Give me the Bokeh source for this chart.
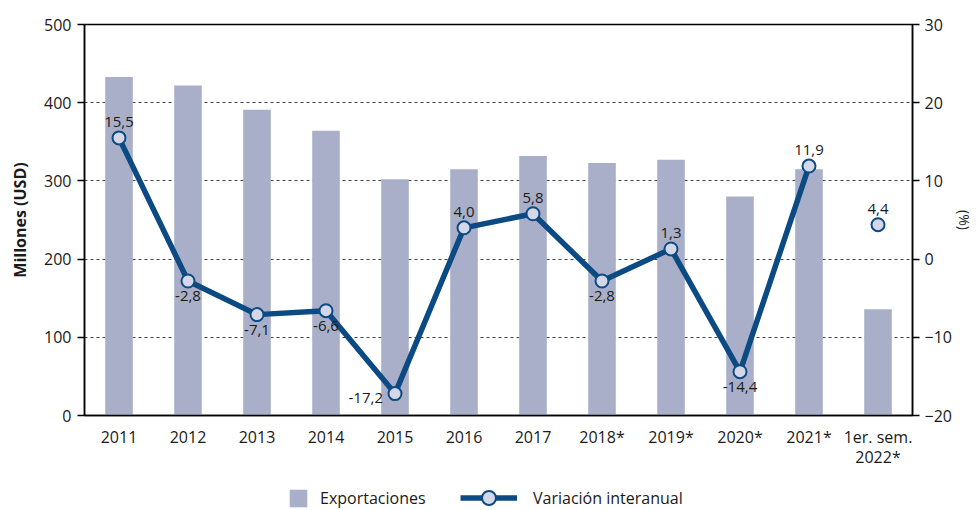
from bokeh.plotting import figure
from bokeh.models import (ColumnDataSource, Range1d, LinearAxis, LabelSet, Legend,
                          LegendItem, FixedTicker, FactorRange)
from bokeh.layouts import column
from bokeh.core.properties import value
from bokeh.embed import file_html
from bokeh.resources import INLINE

# ---- data ----
categories = ["2011", "2012", "2013", "2014", "2015", "2016", "2017",
              "2018*", "2019*", "2020*", "2021*", "1er. sem.\n2022*"]
exportaciones = [433, 422, 391, 364, 302, 315, 332, 323, 327, 280, 315, 136]
variacion = [15.5, -2.8, -7.1, -6.6, -17.2, 4.0, 5.8, -2.8, 1.3, -14.4, 11.9, 4.4]
label_side = ["above", "below", "below", "below", "left", "above", "above",
              "below", "above", "below", "above", "above"]
left_ticks = [0, 100, 200, 300, 400, 500]
right_ticks = [-20, -10, 0, 10, 20, 30]

FONT = "Open Sans"
BAR = "#a9afc8"
LINE = "#0c4a83"
MFILL = "#d3d7e8"
TXT = "#1a1a1a"

src_bar = ColumnDataSource(dict(x=categories, top=exportaciones))
src_line = ColumnDataSource(dict(x=categories[:-1], y=variacion[:-1]))

xo, yo, al, bl = [], [], [], []
for s in label_side:
    if s == "above":
        xo.append(0); yo.append(11); al.append("center"); bl.append("bottom")
    elif s == "below":
        xo.append(0); yo.append(-10); al.append("center"); bl.append("top")
    else:
        xo.append(-12); yo.append(-4); al.append("right"); bl.append("middle")
labels_txt = [f"{v:.1f}".replace(".", ",") for v in variacion]
src_pts = ColumnDataSource(dict(x=categories, y=variacion, t=labels_txt,
                                xo=xo, yo=yo, al=al, bl=bl))


def add_series(fig, visible=True):
    b = fig.vbar(x="x", top="top", width=0.4, source=src_bar, color=BAR,
                 line_color=None, visible=visible)
    l = fig.line(x="x", y="y", source=src_line, y_range_name="pct",
                 line_color=LINE, line_width=5.5, visible=visible)
    s = fig.scatter(x="x", y="y", source=src_pts, y_range_name="pct", size=13,
                    fill_color=MFILL, line_color=LINE, line_width=2, visible=visible)
    return b, l, s


p = figure(x_range=FactorRange(*categories), y_range=Range1d(0, 500),
           width=977, height=476, output_backend="svg", toolbar_location=None,
           min_border_left=84, min_border_right=65, min_border_top=24,
           min_border_bottom=61)
p.extra_y_ranges = {"pct": Range1d(-20, 30)}
add_series(p)

lab = LabelSet(x="x", y="y", text="t", source=src_pts, y_range_name="pct",
               x_offset="xo", y_offset="yo", text_align="al", text_baseline="bl",
               text_font=value(FONT), text_font_size=value("15px"),
               text_color=TXT)
p.add_layout(lab)

# axes
p.yaxis.ticker = FixedTicker(ticks=left_ticks)
p.yaxis.axis_label = "Millones (USD)"
p.yaxis.axis_label_text_font_style = "bold"
p.yaxis.axis_label_text_font_size = "16px"
p.yaxis.axis_label_standoff = 10

ra = LinearAxis(y_range_name="pct", ticker=FixedTicker(ticks=right_ticks),
                axis_label="(%)")
p.add_layout(ra, "right")
ra.axis_label_standoff = 0
ra.axis_label_text_font_size = "14px"
ra.axis_label_text_font_style = "normal"

for ax in [p.yaxis[0], ra]:
    ax.major_tick_out = 7
    ax.major_tick_in = 0
    ax.minor_tick_line_color = None
    ax.major_label_standoff = 6
    ax.major_label_text_font_size = "16px"
ra.major_label_standoff = 5

for ax in [p.yaxis[0], ra, p.xaxis[0]]:
    ax.axis_line_color = "black"
    ax.axis_line_width = 1.5
    ax.major_tick_line_color = "black"
    ax.major_tick_line_width = 1.5
    ax.major_label_text_font = FONT
    ax.major_label_text_color = TXT
    ax.axis_label_text_font = FONT
    ax.axis_label_text_color = TXT

p.xaxis.major_tick_line_color = None
p.xaxis.major_label_standoff = 4
p.xaxis.major_label_text_font_size = "16px"
p.xaxis.major_label_text_line_height = 0.95

p.xgrid.grid_line_color = None
p.ygrid.ticker = FixedTicker(ticks=[100, 200, 300, 400])
p.ygrid.grid_line_color = "#444444"
p.ygrid.grid_line_dash = "3 3"
p.ygrid.grid_line_width = 1

p.outline_line_color = "black"
p.outline_line_width = 1.5
p.background_fill_color = "white"
p.border_fill_color = "white"
p.x_range.range_padding = 0

# ---- legend strip (hidden proxies of the same series) ----
lg = figure(x_range=FactorRange(*categories), y_range=Range1d(0, 500),
            width=977, height=34, output_backend="svg", toolbar_location=None,
            x_axis_type=None, y_axis_type=None, min_border_left=84,
            min_border_right=65, min_border_top=0, min_border_bottom=0)
lg.extra_y_ranges = {"pct": Range1d(-20, 30)}
lg.outline_line_color = None
lg.grid.grid_line_color = None
lbar, lline, lpts = add_series(lg, visible=False)

common = dict(padding=0, margin=0, border_line_color=None, background_fill_alpha=0,
              label_text_font=FONT, label_text_font_size="16px",
              label_text_color=TXT, inactive_fill_alpha=0)
leg1 = Legend(items=[LegendItem(label="Exportaciones", renderers=[lbar])],
              location=(287 - 84, 1), glyph_width=22, glyph_height=22,
              label_standoff=11, **common)
leg2 = Legend(items=[LegendItem(label="Variación interanual", renderers=[lline, lpts])],
              location=(460 - 84, -5), glyph_width=57, glyph_height=35,
              label_standoff=16, **common)
lg.add_layout(leg1, "center")
lg.add_layout(leg2, "center")

layout = column(p, lg, spacing=0)
open("out.html", "w").write(file_html(layout, INLINE))
